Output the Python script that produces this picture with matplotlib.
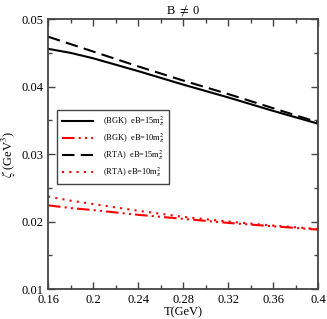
import matplotlib.pyplot as plt
import numpy as np

plt.rcParams['font.family'] = ['Liberation Serif', 'DejaVu Serif']
plt.rcParams['mathtext.fontset'] = 'stix'

T = [0.16, 0.18, 0.2, 0.24, 0.28, 0.32, 0.36, 0.40]
bgk_15 = [0.0456, 0.0450, 0.0442, 0.0423, 0.0403, 0.0384, 0.0364, 0.0345]
rta_15 = [0.0474, 0.0463, 0.0452, 0.0430, 0.0409, 0.0389, 0.0368, 0.0347]
bgk_10 = [0.0224, 0.0220, 0.0217, 0.0210, 0.0204, 0.0198, 0.0193, 0.0188]
rta_10 = [0.0237, 0.0231, 0.0226, 0.0216, 0.0207, 0.0200, 0.0194, 0.0189]

fig = plt.figure(figsize=(3.27, 3.19), dpi=100)
ax = fig.add_axes([0.147, 0.094, 0.826, 0.846])

ax.plot(T, bgk_15, color='black', lw=1.5, ls='-', label=r'(BGK)  eB=15m$_\pi^2$')
ax.plot(T, bgk_10, color='red', lw=1.5, ls=(0, (6, 2, 1, 2, 1, 2)), label=r'(BGK)  eB=10m$_\pi^2$')
ax.plot(T, rta_15, color='black', lw=1.5, ls=(0, (6, 3)), label=r'(RTA)  eB=15m$_\pi^2$')
ax.plot(T, rta_10, color='red', lw=1.5, ls=(0, (1, 2.5)), label=r'(RTA) eB=10m$_\pi^2$')

ax.set_xlim(0.16, 0.4)
ax.set_ylim(0.01, 0.05)
ax.set_xticks(np.arange(0.16, 0.401, 0.04))
ax.set_xticklabels(['0.16', '0.2', '0.24', '0.28', '0.32', '0.36', '0.4'])
ax.set_xticks(np.arange(0.16, 0.401, 0.02), minor=True)
ax.set_yticks([0.01, 0.02, 0.03, 0.04, 0.05])
ax.set_yticklabels(['0.01', '0.02', '0.03', '0.04', '0.05'])
ax.set_yticks(np.arange(0.01, 0.0501, 0.005), minor=True)
ax.tick_params(which='both', direction='in', top=True, right=True, labelsize=9, colors='#444444', labelcolor='black')
ax.tick_params(which='major', length=5, width=1)
ax.tick_params(which='minor', length=3, width=1)
for s in ax.spines.values():
    s.set_linewidth(1.3)
    s.set_color('#444444')

ax.set_xlabel('T(GeV)', fontsize=9, labelpad=0)
ax.set_ylabel(r'$\zeta$ (GeV$^3$)', fontsize=9, labelpad=2)
ax.set_title(r'B $\neq$ 0', fontsize=9, pad=4)

leg = ax.legend(loc='upper left', bbox_to_anchor=(0.033, 0.665), fontsize=6,
                frameon=True, fancybox=False, framealpha=1, edgecolor='#444444',
                handlelength=3.8, borderpad=0.55, labelspacing=0.4, handletextpad=1.2,
                borderaxespad=0)
leg.get_frame().set_linewidth(1.0)

fig.savefig('out.png', dpi=100)
